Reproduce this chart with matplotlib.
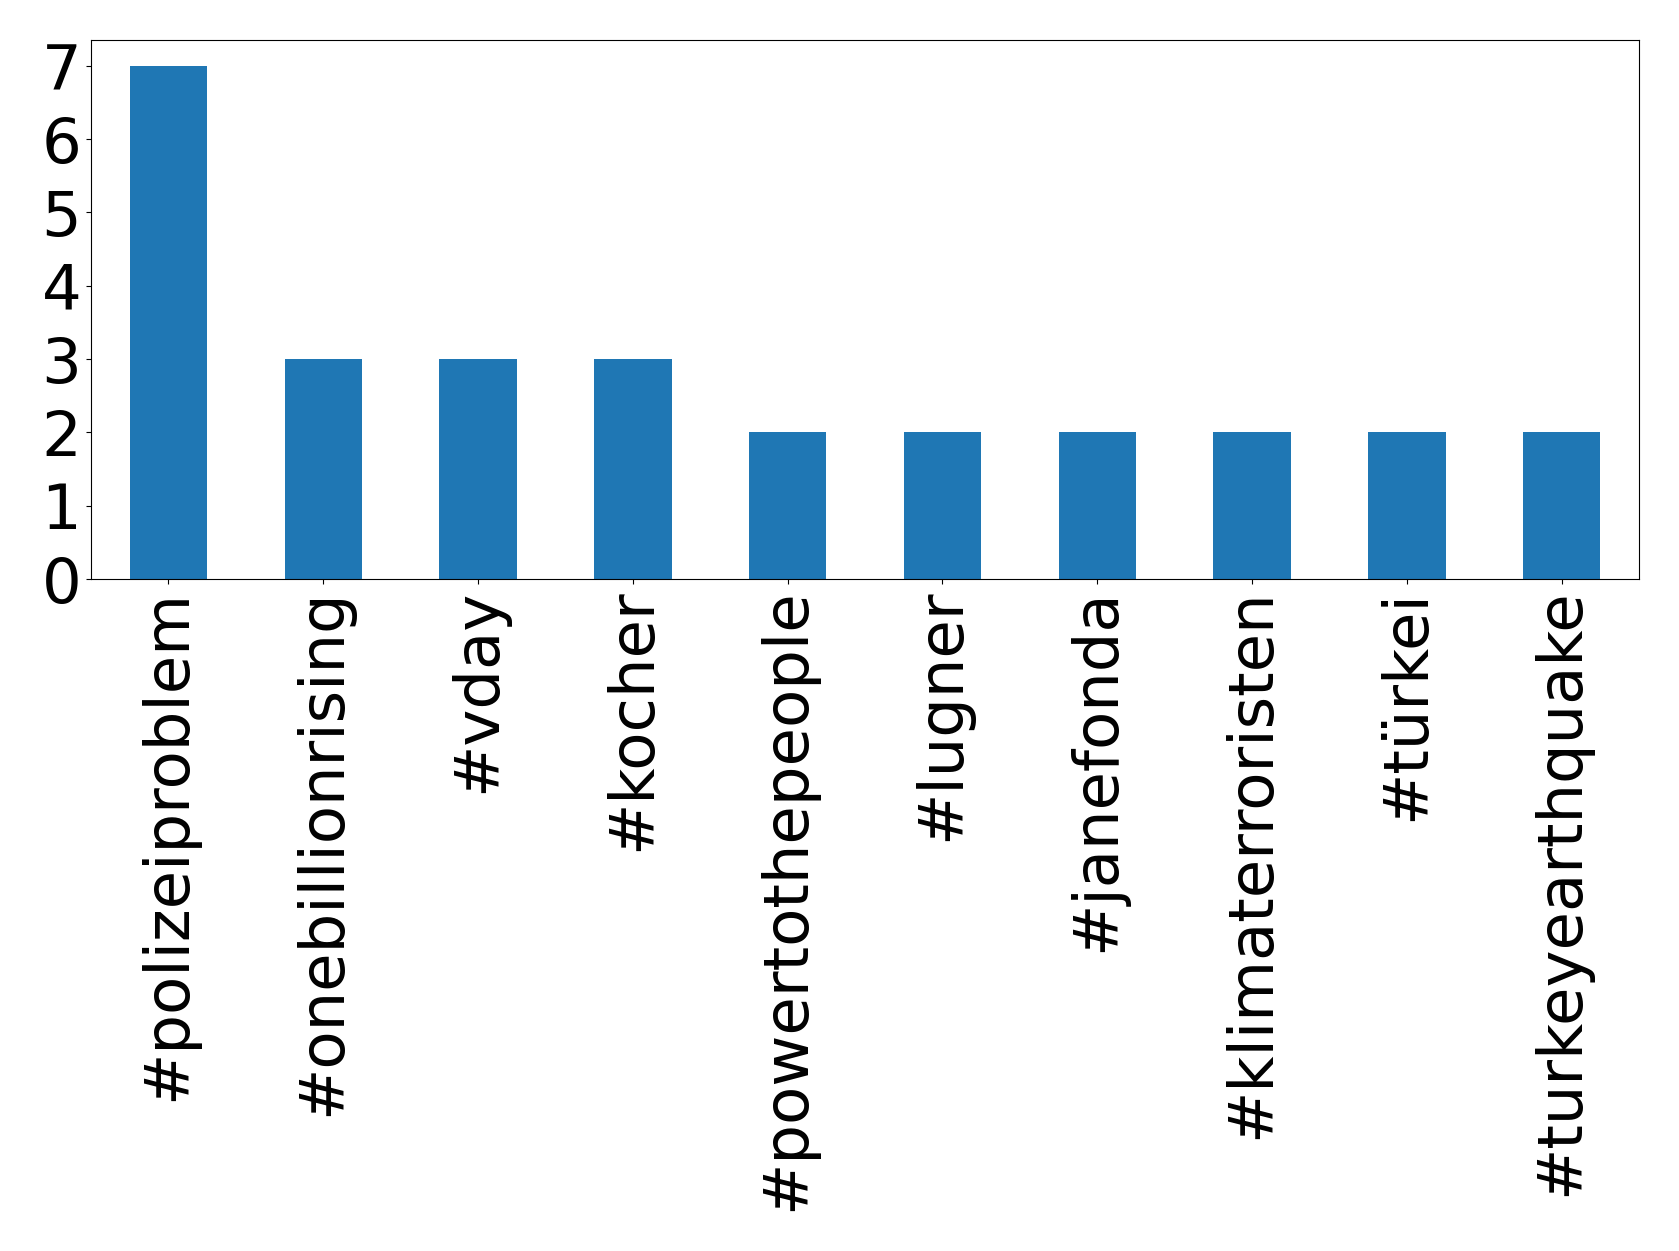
import matplotlib
matplotlib.use("Agg")
import matplotlib.pyplot as plt
import pandas as pd

hashtags = ["#polizeiproblem", "#onebillionrising", "#vday", "#kocher",
            "#powertothepeople", "#lugner", "#janefonda", "#klimaterroristen",
            "#türkei", "#turkeyearthquake"]
counts = [7, 3, 3, 3, 2, 2, 2, 2, 2, 2]

s = pd.Series(counts, index=hashtags)

fig = plt.figure(figsize=(16.79, 12.51), dpi=100)
ax = fig.add_axes([91 / 1679, 1 - 579 / 1251, (1639 - 91) / 1679, (579 - 40) / 1251])
s.plot.bar(ax=ax, fontsize=45)
ax.set_yticks(range(0, max(counts) + 1))
ax.tick_params(axis="both", labelsize=45)
fig.savefig("out.png", dpi=100)
